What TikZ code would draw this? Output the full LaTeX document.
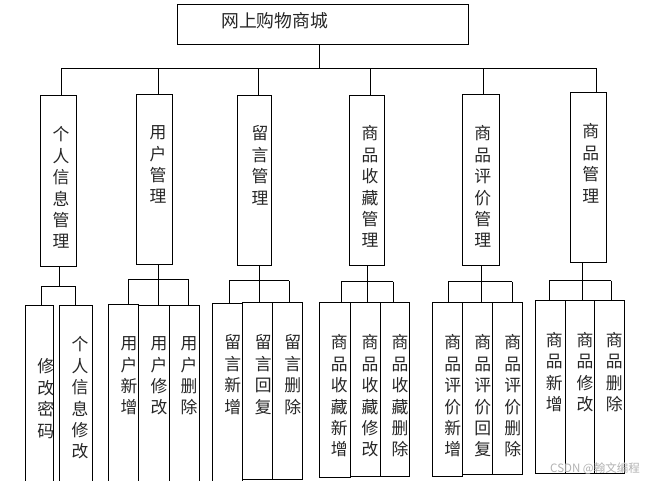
\documentclass[tikz,border=0pt]{standalone}
\usepackage{fontspec}
\newfontfamily\cjk{Noto Sans CJK SC}
\begin{document}
\begin{tikzpicture}[x=1pt,y=-1pt,
  bx/.style={draw,line width=1pt,inner sep=0pt,outer sep=0pt,anchor=north west},
  vt/.style={font=\cjk\fontsize{16.8}{21.4}\selectfont,align=center,inner sep=0pt,anchor=north,text=black!85},
  ln/.style={line width=1pt}]
\useasboundingbox[fill=white] (0,0) rectangle (647,480);
\newcommand\bx[5]{\node[bx,minimum width={#4-#2},minimum height={#5-#3}] (#1) at (#2,#3) {};}
% top
\bx{top}{177}{4.3}{468.5}{44}
\node[font=\cjk\fontsize{17.8}{20}\selectfont,inner sep=0pt,anchor=north west,text=black!85] (title) at (221,12.5) {网上购物商城};
% level 2
\bx{b1}{40}{95.3}{76.6}{266}
\bx{b2}{136.5}{94.3}{172.6}{264}
\bx{b3}{237.5}{95.3}{271.6}{265}
\bx{b4}{349.3}{95.3}{384.3}{265.3}
\bx{b5}{462.3}{94.3}{499.3}{265.3}
\bx{b6}{570.3}{92.3}{606.3}{262.3}
\node[vt] (n1) at (61,126.5) {个\\人\\信\\息\\管\\理};
\node[vt] (n2) at (158,125.5) {用\\户\\管\\理};
\node[vt] (n3) at (260,125.5) {留\\言\\管\\理};
\node[vt] (n4) at (370,125.5) {商\\品\\收\\藏\\管\\理};
\node[vt] (n5) at (482.7,125.5) {商\\品\\评\\价\\管\\理};
\node[vt] (n6) at (590.7,123.5) {商\\品\\管\\理};
% level 1 connectors
\coordinate (j0) at (319,68);
\coordinate (h1) at (61,68);
\coordinate (h2) at (158,68);
\coordinate (h3) at (258,68);
\coordinate (h4) at (370,68);
\coordinate (h5) at (483,68);
\coordinate (h6) at (596,68);
\draw[ln] (top.south -| j0) -- (j0);
\draw[ln] (h1) -- (h6);
\foreach \i in {1,...,6} {\draw[ln] (h\i) -- (h\i |- b\i.north);}
% level 3 boxes
\bx{c11}{25.3}{305}{53.3}{482}
\bx{c12}{59.3}{305}{92.3}{482}
\bx{c21}{108.3}{304}{138.3}{482}
\bx{c22}{138.3}{305}{169.3}{482}
\bx{c23}{169.3}{305}{199.3}{482}
\bx{c31}{212.3}{303.3}{242.3}{482}
\bx{c32}{242.3}{302.3}{272.3}{479.3}
\bx{c33}{272.3}{302.3}{302.3}{479.3}
\bx{c41}{319.3}{302.7}{350}{477.7}
\bx{c42}{350}{302.7}{380.3}{476.7}
\bx{c43}{380.3}{302.7}{409.3}{476.7}
\bx{c51}{432.5}{302.3}{462.7}{476}
\bx{c52}{462.7}{302.3}{492.3}{474.5}
\bx{c53}{492.3}{302.3}{522.3}{474.5}
\bx{c61}{535.7}{300.7}{565.5}{473.5}
\bx{c62}{565.5}{300.7}{594.5}{473.5}
\bx{c63}{594.5}{300.7}{624.3}{473.5}
% level 3 texts
\node[vt] (m11) at (45.7,358.5) {修\\改\\密\\码};
\node[vt] (m12) at (80,336.5) {个\\人\\信\\息\\修\\改};
\node[vt] (m21) at (129,336.5) {用\\户\\新\\增};
\node[vt] (m22) at (159,336.5) {用\\户\\修\\改};
\node[vt] (m23) at (189,336.5) {用\\户\\删\\除};
\node[vt] (m31) at (232.7,334.5) {留\\言\\新\\增};
\node[vt] (m32) at (263.3,334.5) {留\\言\\回\\复};
\node[vt] (m33) at (292.7,334.5) {留\\言\\删\\除};
\node[vt] (m41) at (339.3,334.5) {商\\品\\收\\藏\\新\\增};
\node[vt] (m42) at (370,334.5) {商\\品\\收\\藏\\修\\改};
\node[vt] (m43) at (400,334.5) {商\\品\\收\\藏\\删\\除};
\node[vt] (m51) at (452.7,334.5) {商\\品\\评\\价\\新\\增};
\node[vt] (m52) at (482.7,334.5) {商\\品\\评\\价\\回\\复};
\node[vt] (m53) at (512.7,334.5) {商\\品\\评\\价\\删\\除};
\node[vt] (m61) at (554.3,332.2) {商\\品\\新\\增};
\node[vt] (m62) at (585,332.2) {商\\品\\修\\改};
\node[vt] (m63) at (614.3,332.2) {商\\品\\删\\除};
% level 2 -> 3 connectors
% G1
\coordinate (g1) at (59.3,286);
\coordinate (g1a) at (41.3,286);
\coordinate (g1b) at (75.3,286);
\draw[ln] (b1.south -| g1) -- (g1);
\draw[ln] (g1a) -- (g1b);
\draw[ln] (g1a) -- (g1a |- c11.north);
\draw[ln] (g1b) -- (g1b |- c12.north);
% G2
\coordinate (g2) at (158,279);
\coordinate (g2a) at (128,279);
\coordinate (g2b) at (188.3,279);
\draw[ln] (b2.south -| g2) -- (g2);
\draw[ln] (g2a) -- (g2b);
\draw[ln] (g2a) -- (g2a |- c21.north);
\draw[ln] (g2) -- (g2 |- c22.north);
\draw[ln] (g2b) -- (g2b |- c23.north);
% G3
\coordinate (g3) at (259.3,280.7);
\coordinate (g3a) at (229.3,280.7);
\coordinate (g3b) at (289.3,280.7);
\draw[ln] (b3.south -| g3) -- (g3);
\draw[ln] (g3a) -- (g3b);
\draw[ln] (g3a) -- (g3a |- c31.north);
\draw[ln] (g3) -- (g3 |- c32.north);
\draw[ln] (g3b) -- (g3b |- c33.north);
% G4
\coordinate (g4) at (367.3,281.7);
\coordinate (g4a) at (341,281.7);
\coordinate (g4b) at (393.3,281.7);
\draw[ln] (b4.south -| g4) -- (g4);
\draw[ln] (g4a) -- (g4b);
\draw[ln] (g4a) -- (g4a |- c41.north);
\draw[ln] (g4) -- (g4 |- c42.north);
\draw[ln] (g4b) -- (g4b |- c43.north);
% G5
\coordinate (g5) at (481.7,281.7);
\coordinate (g5a) at (448.3,281.7);
\coordinate (g5b) at (512.3,281.7);
\draw[ln] (b5.south -| g5) -- (g5);
\draw[ln] (g5a) -- (g5b);
\draw[ln] (g5a) -- (g5a |- c51.north);
\draw[ln] (g5) -- (g5 |- c52.north);
\draw[ln] (g5b) -- (g5b |- c53.north);
% G6
\coordinate (g6) at (582.3,280.7);
\coordinate (g6a) at (549.3,280.7);
\coordinate (g6b) at (611,280.7);
\draw[ln] (b6.south -| g6) -- (g6);
\draw[ln] (g6a) -- (g6b);
\draw[ln] (g6a) -- (g6a |- c61.north);
\draw[ln] (g6) -- (g6 |- c62.north);
\draw[ln] (g6b) -- (g6b |- c63.north);
% watermark
\node[font=\cjk\fontsize{11.5}{13}\selectfont,text=black!30,inner sep=0pt] (wm) at (595,469) {CSDN @翰文编程};
\end{tikzpicture}
\end{document}
